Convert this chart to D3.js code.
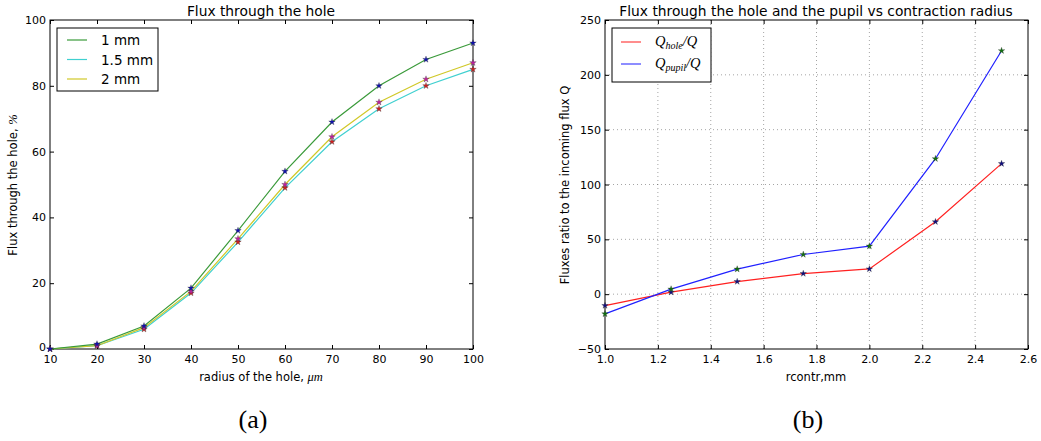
<!DOCTYPE html>
<html><head><meta charset="utf-8">
<script src="https://cdn.jsdelivr.net/npm/d3@7"></script>
<style>
body{margin:0;background:#fff;}
text{font-family:"DejaVu Sans",sans-serif;fill:#000;}
.serif{font-family:"Liberation Serif","DejaVu Serif",serif;}
</style></head>
<body>
<svg id="c" width="1041" height="441"></svg>
<script>
// ---- Panel (a) data ----
const radiusHole = [10,20,30,40,50,60,70,80,90,100];
const flux1mm   = [0,1.5,7,18.5,36,54,69,80,88,93];
const flux15mm  = [0,1,6,17,32.5,49,63,73,80,85];
const flux2mm   = [0,1,6.5,17.5,33.5,50,64.5,75,82,87];
const seriesNamesA = ["1 mm","1.5 mm","2 mm"];
const xTicksA = [10,20,30,40,50,60,70,80,90,100];
const yTicksA = [0,20,40,60,80,100];

// ---- Panel (b) data ----
const rcontr = [1.0,1.25,1.5,1.75,2.0,2.25,2.5];
const qHole  = [-10.4,1.8,11.5,18.8,23,66,119];
const qPupil = [-18,4.6,22.8,36.2,43.8,123.5,222];
const xTicksB = [1.0,1.2,1.4,1.6,1.8,2.0,2.2,2.4,2.6];
const yTicksB = [-50,0,50,100,150,200,250];

const svg = d3.select("#c");

function star(g, x, y, fill){
  const sym = d3.symbol().type(d3.symbolStar).size(13);
  g.append("path").attr("d", sym()).attr("transform",`translate(${x},${y})`)
   .attr("fill", fill).attr("stroke","#333").attr("stroke-width",0.5).attr("stroke-opacity",0.6);
}

function panel(opt){
  const {L,R,T,B,xDom,yDom,xTicks,yTicks,xFmt,yFmt,grid} = opt;
  const x = d3.scaleLinear().domain(xDom).range([L,R]);
  const y = d3.scaleLinear().domain(yDom).range([B,T]);
  const g = svg.append("g");
  if(grid){
    xTicks.forEach(t=>{ if(t>xDom[0]&&t<xDom[1]) g.append("line").attr("x1",x(t)).attr("x2",x(t)).attr("y1",T).attr("y2",B)
      .attr("stroke","#000").attr("stroke-opacity",0.45).attr("stroke-width",0.8).attr("stroke-dasharray","1,3");});
    yTicks.forEach(t=>{ if(t>yDom[0]&&t<yDom[1]) g.append("line").attr("x1",L).attr("x2",R).attr("y1",y(t)).attr("y2",y(t))
      .attr("stroke","#000").attr("stroke-opacity",0.45).attr("stroke-width",0.8).attr("stroke-dasharray","1,3");});
  }
  const ax = (a,p)=>a.tickSizeInner(-4).tickSizeOuter(0).tickPadding(p);
  const bottom = g.append("g").attr("transform",`translate(0,${B})`).call(ax(d3.axisBottom(x).tickValues(xTicks).tickFormat(xFmt),6));
  const top = g.append("g").attr("transform",`translate(0,${T})`).call(ax(d3.axisTop(x).tickValues(xTicks).tickFormat(""),5));
  const left = g.append("g").attr("transform",`translate(${L},0)`).call(ax(d3.axisLeft(y).tickValues(yTicks).tickFormat(yFmt),4));
  const right = g.append("g").attr("transform",`translate(${R},0)`).call(ax(d3.axisRight(y).tickValues(yTicks).tickFormat(""),4));
  [bottom,top,left,right].forEach(a=>{a.select(".domain").remove(); a.selectAll("text").attr("font-size",11).attr("fill","#222");
    a.selectAll("line").attr("stroke","#000");});
  g.append("rect").attr("x",L).attr("y",T).attr("width",R-L).attr("height",B-T).attr("fill","none").attr("stroke","#000").attr("stroke-width",1);
  return {x,y,g,left};
}

// ---- Panel (a) ----
const A = panel({L:50,R:473,T:20,B:349,xDom:[10,100],yDom:[0,100],xTicks:xTicksA,yTicks:yTicksA,
  xFmt:d3.format("d"),yFmt:d3.format("d"),grid:false});
A.left.selectAll("text").filter(d=>d===0).attr("dy","0.15em");
const lineColA = ["#3a9a3a","#40d0d0","#d0c828"];
const markA = ["#1010b0","#d02020","#c020a0"];
const dataA = [flux1mm,flux15mm,flux2mm];
const lineA = d3.line().x((d,i)=>A.x(radiusHole[i])).y(d=>A.y(d));
[1,2,0].forEach(k=>{
  A.g.append("path").attr("d",lineA(dataA[k])).attr("fill","none").attr("stroke",lineColA[k]).attr("stroke-width",1.2);
});
[1,2,0].forEach(k=>{ dataA[k].forEach((v,i)=>star(A.g,A.x(radiusHole[i]),A.y(v),markA[k])); });
svg.append("text").attr("x",261).attr("y",16).attr("text-anchor","middle").attr("font-size",13.8).text("Flux through the hole");
const xlA = svg.append("text").attr("x",261).attr("y",381).attr("text-anchor","middle").attr("font-size",11.5);
xlA.append("tspan").text("radius of the hole, ");
xlA.append("tspan").attr("class","serif").attr("font-style","italic").attr("font-size",12.5).text("μm");
const ylA = svg.append("text").attr("transform","translate(17,185) rotate(-90)").attr("text-anchor","middle").attr("font-size",11.5);
ylA.append("tspan").text("Flux through the hole, ");
ylA.append("tspan").attr("class","serif").attr("font-style","italic").attr("font-size",12.5).text("%");
// legend (a)
const legA = svg.append("g");
legA.append("rect").attr("x",57).attr("y",28).attr("width",101).attr("height",63).attr("fill","#fff").attr("stroke","#000").attr("stroke-width",1);
seriesNamesA.forEach((n,i)=>{
  const yy = 40 + i*19.5;
  legA.append("line").attr("x1",67).attr("x2",87).attr("y1",yy).attr("y2",yy).attr("stroke",lineColA[i]).attr("stroke-width",1.2);
  legA.append("text").attr("x",101).attr("y",yy+5).attr("font-size",13.5).text(n);
});
svg.append("text").attr("class","serif").attr("x",253).attr("y",428).attr("text-anchor","middle").attr("font-size",26).text("(a)");

// ---- Panel (b) ----
const Bp = panel({L:605,R:1028,T:20,B:349,xDom:[1.0,2.6],yDom:[-50,250],xTicks:xTicksB,yTicks:yTicksB,
  xFmt:d3.format(".1f"),yFmt:d=>d<0?"\u2212"+Math.abs(d):d,grid:true});
const lineB = d3.line().x((d,i)=>Bp.x(rcontr[i])).y(d=>Bp.y(d));
Bp.g.append("path").attr("d",lineB(qHole)).attr("fill","none").attr("stroke","#ff2020").attr("stroke-width",1.2);
Bp.g.append("path").attr("d",lineB(qPupil)).attr("fill","none").attr("stroke","#2020ff").attr("stroke-width",1.2);
qHole.forEach((v,i)=>star(Bp.g,Bp.x(rcontr[i]),Bp.y(v),"#101080"));
qPupil.forEach((v,i)=>star(Bp.g,Bp.x(rcontr[i]),Bp.y(v),"#107010"));
svg.append("text").attr("x",816).attr("y",16).attr("text-anchor","middle").attr("font-size",13.8).text("Flux through the hole and the pupil vs contraction radius");
svg.append("text").attr("x",816).attr("y",381).attr("text-anchor","middle").attr("font-size",11.5).text("rcontr,mm");
svg.append("text").attr("transform","translate(569,185) rotate(-90)").attr("text-anchor","middle").attr("font-size",11.5).text("Fluxes ratio to the incoming flux Q");
const legB = svg.append("g");
legB.append("rect").attr("x",612).attr("y",28).attr("width",99).attr("height",54).attr("fill","#fff").attr("stroke","#000").attr("stroke-width",1);
const legBItems = [["hole","#ff4040"],["pupil","#4040ff"]];
legBItems.forEach((it,i)=>{
  const yy = 42 + i*22;
  legB.append("line").attr("x1",621).attr("x2",641).attr("y1",yy).attr("y2",yy).attr("stroke",it[1]).attr("stroke-width",1.2);
  const t = legB.append("text").attr("class","serif").attr("x",655).attr("y",yy+4).attr("font-style","italic").attr("font-size",14.5);
  t.append("tspan").text("Q");
  t.append("tspan").attr("font-size",10).attr("dy",3).text(it[0]);
  t.append("tspan").attr("dy",-3).text("/Q");
});
svg.append("text").attr("class","serif").attr("x",808).attr("y",428).attr("text-anchor","middle").attr("font-size",26).text("(b)");
</script>
</body></html>
